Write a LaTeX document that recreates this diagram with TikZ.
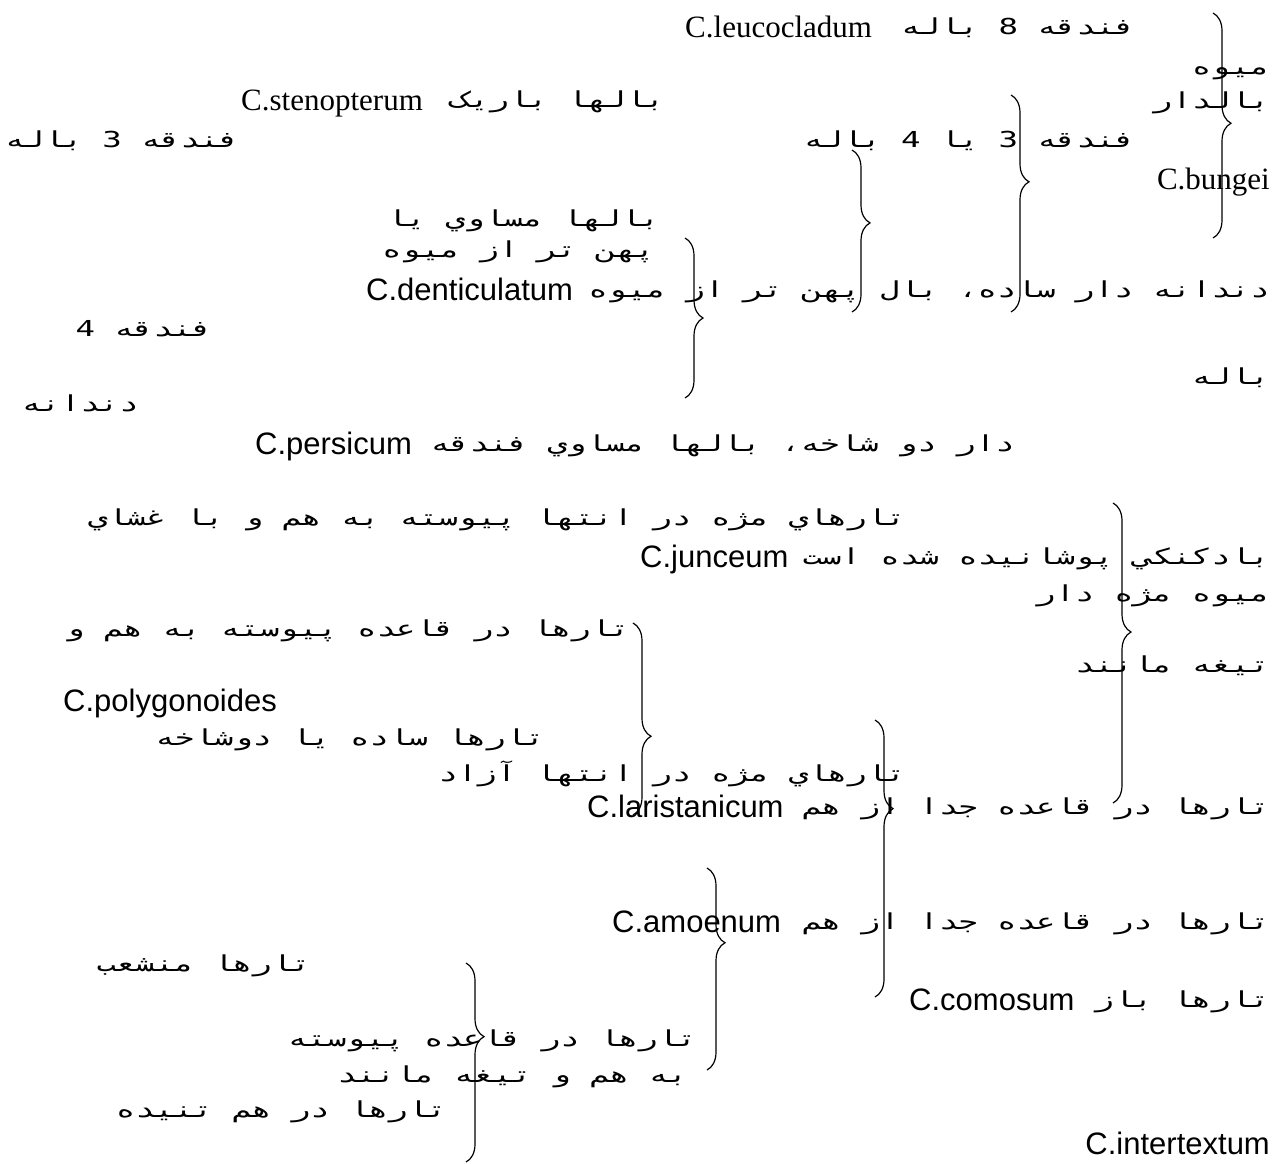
\documentclass[tikz,border=0pt]{standalone}
\usepackage{fontspec}
\usepackage{graphicx}
\newfontfamily\farsi[Script=Arabic]{DejaVu Sans Mono}
\newfontfamily\romanname{Liberation Serif}
\newfontfamily\sansname{Liberation Sans}
\TeXXeTstate=1
\usetikzlibrary{positioning,decorations.pathreplacing}
\newcommand{\fa}[1]{\scalebox{1.47}[1]{\beginR#1\endR}}

\begin{document}
\begin{tikzpicture}[x=1pt,y=1pt,
    fa/.style={inner sep=0pt, anchor=east, text height=15pt, text depth=6pt,
      font=\farsi\fontsize{22}{22}\selectfont},
    tn/.style={inner sep=0pt, anchor=west, text height=21pt, text depth=7pt,
      font=\romanname\fontsize{31}{31}\selectfont},
    an/.style={inner sep=0pt, anchor=west, text height=22pt, text depth=7pt,
      font=\sansname\fontsize{31}{31}\selectfont},
    keybrace/.style={decorate, decoration={brace, amplitude=18pt, aspect=#1}, line width=1.2pt}]
  \useasboundingbox (0,0) rectangle (1281,-1163);

  % winged fruits
  \node[fa] (p1) at (1135,-30) {\fa{فندقه 8 باله}};
  \node[tn] (n1) at (685,-30) {C.leucocladum};
  \node[fa] (p2) at (1270,-70) {\fa{ميوه}};
  \node[fa] (p3) at (1270,-104) {\fa{بالدار}};
  \node[fa] (p4) at (665,-103) {\fa{بالها باريک}};
  \node[tn] (n4) at (241,-103) {C.stenopterum};
  \node[fa] (p5) at (239,-143) {\fa{فندقه 3 باله}};
  \node[fa] (p6) at (1135,-143) {\fa{فندقه 3 يا 4 باله}};
  \node[tn, anchor=east] (n6) at (1270,-182) {C.bungei};
  \node[fa] (p7) at (660,-222) {\fa{بالها مساوي يا}};
  \node[fa] (p8) at (655,-253) {\fa{پهن تر از ميوه}};
  \node[fa] (p9) at (1270,-293) {\fa{دندانه دار ساده، بال پهن تر از ميوه}};
  \node[an] (n9) at (366,-293) {C.denticulatum};
  \node[fa] (p10) at (212,-332) {\fa{فندقه 4}};
  \node[fa] (p11) at (1270,-380) {\fa{باله}};
  \node[fa] (p12) at (139,-407) {\fa{دندانه}};
  \node[fa] (p13) at (1015,-447) {\fa{دار دو شاخه، بالها مساوي فندقه}};
  \node[an] (n13) at (255,-447) {C.persicum};

  % ciliate fruits
  \node[fa] (p14) at (906,-521) {\fa{تارهاي مژه در انتها پيوسته به هم و با غشاي}};
  \node[fa] (p15) at (1270,-560) {\fa{بادكنكي پوشانيده شده است}};
  \node[an] (n15) at (640,-560) {C.junceum};
  \node[fa] (p16) at (1270,-597) {\fa{ميوه مژه دار}};
  \node[fa] (p17) at (630,-632) {\fa{تارها در قاعده پيوسته به هم و}};
  \node[fa] (p18) at (1270,-668) {\fa{تيغه مانند}};
  \node[an] (n18) at (63,-704) {C.polygonoides};
  \node[fa] (p19) at (545,-741) {\fa{تارها ساده يا دوشاخه}};
  \node[fa] (p20) at (906,-777) {\fa{تارهاي مژه در انتها آزاد}};
  \node[fa] (p21) at (1270,-810) {\fa{تارها در قاعده جدا از هم}};
  \node[an] (n21) at (587,-810) {C.laristanicum};
  \node[fa] (p22) at (1270,-925) {\fa{تارها در قاعده جدا از هم}};
  \node[an] (n22) at (612,-925) {C.amoenum};
  \node[fa] (p23) at (311,-967) {\fa{تارها منشعب}};
  \node[fa] (p24) at (1270,-1003) {\fa{تارها باز}};
  \node[an] (n24) at (909,-1003) {C.comosum};
  \node[fa] (p25) at (697,-1042) {\fa{تارها در قاعده پيوسته}};
  \node[fa] (p26) at (688,-1078) {\fa{به هم و تيغه مانند}};
  \node[fa] (p27) at (447,-1113) {\fa{تارها در هم تنيده}};
  \node[an, anchor=east] (n27) at (1270,-1147) {C.intertextum};

  % braces: number / x / top / bottom / tip position
  \foreach \i/\bx/\btop/\bbot/\basp in {1/1213/13/238/0.49, 2/1011/95/312/0.40,
      3/852/150/312/0.45, 4/685/238/398/0.50, 5/1113/503/803/0.43,
      6/633/623/815/0.59, 7/875/720/997/0.32, 8/707/868/1070/0.37,
      9/466/963/1162/0.37}{
    \coordinate (b\i t) at (\bx,-\btop);
    \coordinate (b\i b) at (\bx,-\bbot);
    \draw[keybrace=\basp] (b\i t) -- (b\i b);
  }
\end{tikzpicture}
\end{document}
